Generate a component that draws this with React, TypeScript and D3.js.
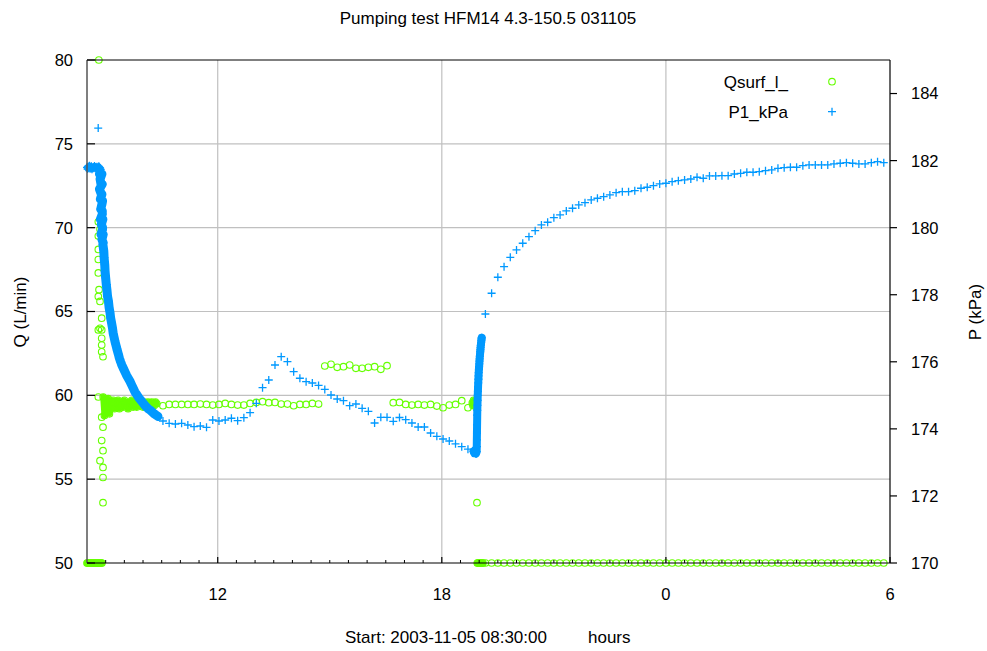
import React from "react";
import * as d3 from "d3";

// ---------- Data (time in minutes since 2003-11-05 08:30:00) ----------
// Q (L/min), start-up phase, dense logging
const qStartT = [0, 1, 2, 3, 4, 5, 6, 7, 8, 9, 10, 11, 12, 13, 14, 15, 16, 17, 18, 19, 20, 21, 22, 23, 24];
const qStartV = [50, 50, 50, 50, 50, 50, 50, 50, 50, 50, 50, 50, 50, 50, 50, 50, 50, 50, 50, 50, 50, 50, 50, 50, 50];
const qScatterT = [19, 18.2, 23.6, 20.9, 18.2, 18.2, 18.2, 19.3, 18.2, 20.9, 23.6, 18.2, 23.6, 23.6, 23.6, 23.6, 25.7, 18.2, 23.6, 25.7, 23.6, 25.7, 20.9, 25.7, 25.7, 25.7, 18.2, 20.9];
const qScatterV = [80, 70.35, 70.45, 69.9, 69.5, 68.1, 67.3, 66.3, 65.9, 65.6, 64.6, 63.9, 63.9, 63.4, 63.0, 62.6, 62.3, 59.9, 58.7, 58.1, 57.3, 56.7, 56.1, 55.7, 55.1, 53.6, 68.7, 64.0];
const qBandT = [26, 28, 30, 32, 34, 36, 38, 40, 42, 44, 46, 48, 50, 52, 54, 56, 58, 60, 62, 64, 66, 68, 70, 72, 74, 76, 78, 80, 82, 84, 86, 88, 90, 92, 94, 96, 98, 100, 102, 104, 106, 108, 110, 112];
const qBandV = [59.9, 58.8, 59.7, 59.1, 59.8, 58.9, 59.6, 59.3, 59.7, 59.2, 59.6, 59.4, 59.7, 59.2, 59.5, 59.6, 59.3, 59.7, 59.4, 59.5, 59.2, 59.6, 59.4, 59.7, 59.3, 59.5, 59.6, 59.3, 59.5, 59.7, 59.4, 59.5, 59.3, 59.6, 59.5, 59.4, 59.6, 59.5, 59.3, 59.6, 59.5, 59.4, 59.6, 59.5];
// Q, 10-minute logging during pumping (first sample at 122 min)
const qPumpV = [59.38, 59.46, 59.46, 59.46, 59.46, 59.46, 59.48, 59.46, 59.42, 59.46, 59.52, 59.46, 59.42, 59.42, 59.52, 59.58, 59.62, 59.56, 59.58, 59.48, 59.48, 59.38, 59.46, 59.46, 59.52, 59.48,
  61.75, 61.85, 61.67, 61.71, 61.81, 61.61, 61.61, 61.67, 61.71, 61.55, 61.77,
  59.56, 59.58, 59.46, 59.42, 59.46, 59.42, 59.46, 59.36, 59.26, 59.42, 59.46, 59.68, 59.26];
// Q at pump stop, dense logging
const qStopT = [619, 620, 621, 622, 623, 624, 625, 626];
const qStopV = [59.55, 59.4, 59.7, 59.5, 59.65, 59.35, 59.6, 59.45];
const qDropT = [626.5];
const qDropV = [53.6];
const qOffT = [627, 628, 629, 630, 631, 632, 633, 634, 635, 636];
const qOffV = [50, 50, 50, 50, 50, 50, 50, 50, 50, 50];
// Q, 10-minute logging during recovery (first sample at 640 min)
const qRecV = [50, 50, 50, 50, 50, 50, 50, 50, 50, 50, 50, 50, 50, 50, 50, 50, 50, 50, 50, 50, 50, 50, 50, 50, 50, 50, 50, 50, 50, 50, 50, 50, 50,
  50, 50, 50, 50, 50, 50, 50, 50, 50, 50, 50, 50, 50, 50, 50, 50, 50, 50, 50, 50, 50, 50, 50, 50, 50, 50, 50, 50, 50, 50, 50, 50];

// P1 (kPa), dense logging at start
const pStartT = [0, 1, 2, 3, 4, 5, 6, 7, 8, 9, 10, 11, 12, 13, 14, 15, 16, 17, 18, 19, 20, 21, 22];
const pStartV = [181.8, 181.75, 181.82, 181.78, 181.85, 181.76, 181.8, 181.83, 181.74, 181.79, 181.81, 181.77, 181.84, 181.78, 181.8, 181.75, 181.82, 181.79, 181.76, 181.83, 181.8, 181.78, 181.74];
const pSpikeT = [18];
const pSpikeV = [182.97];
const pDecayT = [20, 21, 22.5, 20, 23, 21.5, 24, 22, 24.5, 21.5, 23, 25, 22.5, 24, 25.5,
  24, 24.5, 24, 25, 24.5, 25.5, 25, 26, 26, 27, 27.5, 28.5, 29, 30, 31, 32, 33, 34.5, 35.5, 37, 38, 39.5, 41, 42, 43.5, 45, 47, 48.5, 50.5, 52, 54, 56, 58.5, 61, 63.5, 66, 69, 71.5, 74, 77, 80, 83.5, 87, 90, 93, 96, 99, 102, 105, 108, 111, 114];
const pDecayV = [181.6, 181.45, 181.3, 181.15, 181.0, 180.85, 180.7, 180.55, 180.4, 180.25, 180.1, 179.95, 179.8, 179.65, 179.5,
  181.6, 181.3, 181.0, 180.8, 180.5, 180.25, 180.0, 179.8, 179.55, 179.3, 179.1, 178.9, 178.7, 178.5, 178.3, 178.15, 177.95, 177.8, 177.62, 177.46, 177.3, 177.16, 177.0, 176.86, 176.73, 176.6, 176.46, 176.35, 176.22, 176.11, 176.0, 175.9, 175.8, 175.7, 175.6, 175.52, 175.42, 175.32, 175.22, 175.1, 175.02, 174.92, 174.84, 174.77, 174.7, 174.64, 174.59, 174.55, 174.5, 174.45, 174.41, 174.37];
// P1, 10-minute logging during pumping (first sample at 122 min)
const pPumpV = [174.235, 174.166, 174.145, 174.166, 174.116, 174.065, 174.086, 174.047, 174.265, 174.235, 174.265, 174.316, 174.244, 174.333, 174.482, 174.763,
  175.228, 175.458, 175.905, 176.153, 176.004, 175.705, 175.509, 175.407, 175.368, 175.294, 175.175, 175.01, 174.891, 174.84, 174.691, 174.742, 174.614, 174.524,
  174.175, 174.345, 174.345, 174.226, 174.339, 174.274, 174.175, 174.056, 174.056, 173.877, 173.779, 173.698, 173.638, 173.555, 173.469, 173.394];
// P1 at pump stop, dense logging
const pStopT = [621, 622, 623, 624, 625, 626];
const pStopV = [173.33, 173.28, 173.36, 173.3, 173.26, 173.32];
const pRiseT = [626.5, 626.5, 626.5, 626.5, 626.5, 626.5];
const pRiseV = [173.47, 173.67, 173.87, 173.92, 174.12, 174.41];
const pJumpT = [627, 627.2, 627.5, 627.7, 628, 628.2, 628.5, 628.8, 629, 629.3, 629.6, 629.9, 630.2, 630.5, 630.8, 631.1, 631.4, 631.7, 632, 632.3, 632.6, 632.9, 633.2, 633.5, 633.8, 634.1];
const pJumpV = [174.55, 174.7, 174.85, 175.0, 175.12, 175.25, 175.37, 175.48, 175.58, 175.68, 175.77, 175.86, 175.94, 176.02, 176.09, 176.16, 176.23, 176.3, 176.36, 176.42, 176.48, 176.53, 176.58, 176.63, 176.68, 176.72];
// P1, 10-minute logging during recovery (first sample at 640 min)
const pRecV = [177.426, 178.044, 178.521, 178.837, 179.117, 179.335, 179.535, 179.732, 179.91, 180.081, 180.161, 180.298, 180.379, 180.498, 180.579, 180.677, 180.746, 180.826, 180.877, 180.925,
  180.975, 181.044, 181.073, 181.073, 181.103, 181.175, 181.205, 181.252, 181.303, 181.324,
  181.372, 181.402, 181.423, 181.452, 181.503, 181.473, 181.542, 181.542, 181.551, 181.551, 181.601, 181.622, 181.652, 181.652, 181.67, 181.7, 181.721, 181.771, 181.789, 181.801,
  181.801, 181.849, 181.87, 181.87, 181.87, 181.87, 181.9, 181.921, 181.939, 181.921, 181.9, 181.9, 181.939, 181.968, 181.939];

const pumpStart = 122;
const recStart = 640;
const step = 10;

const qTicks = [50, 55, 60, 65, 70, 75, 80];
const pTicks = [170, 172, 174, 176, 178, 180, 182, 184];
const xMajorT = [210, 570, 930, 1290];
const xMajorLabels = ["12", "18", "0", "6"];

const W = 987, H = 651;
const L = 87, R = 890, T = 60, B = 563;
const GREEN = "#66ff00";
const BLUE = "#0099ff";
const FONT = "'Liberation Sans', Arial, Helvetica, sans-serif";

type Pt = [number, number];
const zip = (ts: number[], vs: number[]): Pt[] => ts.map((t, i) => [t, vs[i]] as Pt);
const regular = (t0: number, vs: number[]): Pt[] => vs.map((v, i) => [t0 + i * step, v] as Pt);

export default function App() {
  const x = d3.scaleLinear().domain([0, 1290]).range([L, R]);
  const yQ = d3.scaleLinear().domain([50, 80]).range([B, T]);
  const yP = d3.scaleLinear().domain([170, 185]).range([B, T]);

  // dense (over-plotted) runs
  const qDense: Pt[][] = [zip(qStartT, qStartV), zip(qBandT, qBandV), zip(qStopT, qStopV), zip(qOffT, qOffV)];
  const pDecay = zip(pDecayT, pDecayV).sort((a, b) => b[1] - a[1]);
  const pJump = zip(pStopT, pStopV).concat(zip(pJumpT, pJumpV));
  const pDense: [Pt[], number][] = [[zip(pStartT, pStartV), 6], [pDecay, 9], [pJump, 8]];

  const qPts: Pt[] = [
    ...zip(qStartT, qStartV), ...zip(qScatterT, qScatterV), ...zip(qBandT, qBandV),
    ...regular(pumpStart, qPumpV), ...zip(qStopT, qStopV), ...zip(qDropT, qDropV),
    ...zip(qOffT, qOffV), ...regular(recStart, qRecV),
  ];
  const pPts: Pt[] = [
    ...zip(pStartT, pStartV), ...zip(pSpikeT, pSpikeV), ...zip(pDecayT, pDecayV),
    ...regular(pumpStart, pPumpV), ...zip(pStopT, pStopV), ...zip(pRiseT, pRiseV),
    ...zip(pJumpT, pJumpV), ...regular(recStart, pRecV),
  ];

  const lineQ = d3.line<Pt>().x((d) => x(d[0])).y((d) => yQ(d[1]));
  const lineP = d3.line<Pt>().x((d) => x(d[0])).y((d) => yP(d[1]));

  const minor = d3.range(30, 1291, 30).filter((t) => !xMajorT.includes(t));
  const plus = "M-4,0H4M0,-4V4";

  return (
    <svg width={W} height={H} style={{ position: "absolute", left: 0, top: 0, background: "#fff" }} fontFamily={FONT}>
      <rect x={0} y={0} width={W} height={H} fill="#fff" />
      <text x={488} y={24} textAnchor="middle" fontSize={17} fill="#000">Pumping test HFM14 4.3-150.5 031105</text>
      {/* grid */}
      {qTicks.slice(1, -1).map((q) => (
        <line key={"gq" + q} x1={L} x2={R} y1={yQ(q)} y2={yQ(q)} stroke="#c0c0c0" strokeWidth={1.2} />
      ))}
      {xMajorT.slice(0, -1).map((t) => (
        <line key={"gx" + t} x1={x(t)} x2={x(t)} y1={T} y2={B} stroke="#c0c0c0" strokeWidth={1.2} />
      ))}
      {/* Q markers */}
      <g fill="none" stroke={GREEN} strokeLinecap="round" strokeLinejoin="round">
        {qDense.map((run, i) => (
          <path key={"qd" + i} d={lineQ(run) || ""} strokeWidth={6} />
        ))}
      </g>
      <g fill="none" stroke={GREEN} strokeWidth={1.1}>
        {qPts.map(([t, v], i) => (
          <circle key={"q" + i} cx={x(t)} cy={yQ(v)} r={3.3} />
        ))}
      </g>
      {/* P markers */}
      <g fill="none" stroke={BLUE} strokeLinecap="round" strokeLinejoin="round">
        {pDense.map(([run, w], i) => (
          <path key={"pd" + i} d={lineP(run) || ""} strokeWidth={w} />
        ))}
      </g>
      <g fill="none" stroke={BLUE} strokeWidth={1.3}>
        {pPts.map(([t, v], i) => (
          <path key={"p" + i} d={plus} transform={`translate(${x(t)},${yP(v)})`} />
        ))}
      </g>
      {/* frame */}
      <line x1={L} x2={R} y1={T} y2={T} stroke="#000" strokeWidth={1} />
      <line x1={R} x2={R} y1={T} y2={B} stroke="#000" strokeWidth={1.2} />
      <line x1={L} x2={R} y1={B} y2={B} stroke="#000" strokeWidth={1.2} />
      <line x1={L} x2={L} y1={T} y2={B} stroke="#555" strokeWidth={1.5} />
      {/* left axis */}
      {qTicks.map((q) => (
        <g key={"lq" + q}>
          <line x1={L} x2={L + 8} y1={yQ(q)} y2={yQ(q)} stroke="#000" strokeWidth={1.2} />
          <text x={73} y={yQ(q)} dy="0.36em" textAnchor="end" fontSize={16.5} fill="#000">{q}</text>
        </g>
      ))}
      {/* right axis */}
      {pTicks.map((p) => (
        <g key={"rp" + p}>
          <line x1={R} x2={R + 7} y1={yP(p)} y2={yP(p)} stroke="#000" strokeWidth={1.2} />
          <text x={911} y={yP(p)} dy="0.36em" textAnchor="start" fontSize={16.5} fill="#000">{p}</text>
        </g>
      ))}
      {/* bottom axis */}
      {minor.map((t) => (
        <line key={"mx" + t} x1={x(t)} x2={x(t)} y1={B} y2={B - 3} stroke="#000" strokeWidth={1} />
      ))}
      {xMajorT.map((t, i) => (
        <g key={"xm" + t}>
          <line x1={x(t)} x2={x(t)} y1={B} y2={B - 6} stroke="#000" strokeWidth={1.2} />
          <text x={x(t)} y={600} textAnchor="middle" fontSize={16.5} fill="#000">{xMajorLabels[i]}</text>
        </g>
      ))}
      <text x={345} y={643} fontSize={17} fill="#000">Start: 2003-11-05 08:30:00</text>
      <text x={588} y={643} fontSize={17} fill="#000">hours</text>
      <text transform={`translate(26,312) rotate(-90)`} textAnchor="middle" fontSize={17} fill="#000">Q (L/min)</text>
      <text transform={`translate(981,312) rotate(-90)`} textAnchor="middle" fontSize={17} fill="#000">P (kPa)</text>
      {/* legend */}
      <text x={788} y={82} dy="0.36em" textAnchor="end" fontSize={17} fill="#000">Qsurf_l_</text>
      <circle cx={832} cy={81.7} r={3.3} fill="none" stroke={GREEN} strokeWidth={1.1} />
      <text x={788} y={112} dy="0.36em" textAnchor="end" fontSize={17} fill="#000">P1_kPa</text>
      <path d={plus} transform="translate(832,111.7)" fill="none" stroke={BLUE} strokeWidth={1.3} />
    </svg>
  );
}
